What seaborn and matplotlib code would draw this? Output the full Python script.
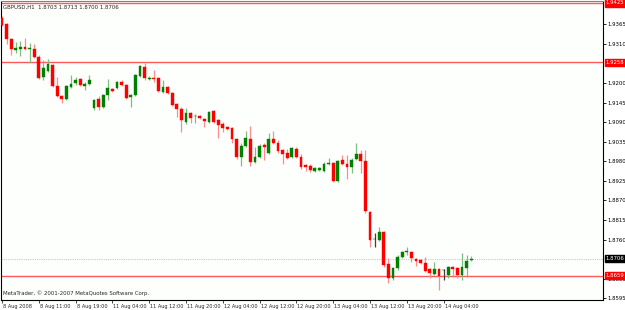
import matplotlib
matplotlib.use("Agg")
import matplotlib.pyplot as plt
import matplotlib.transforms as mtransforms
import seaborn as sns
import pandas as pd

# GBPUSD H1, 8 Aug 2008 03:00 .. 14 Aug 2008 04:00 (103 bars)
opens = [1.9383, 1.9366, 1.9324, 1.9293, 1.9296, 1.9301, 1.9297, 1.9296, 1.9273, 1.9217,
         1.9234, 1.9251, 1.9192, 1.9164, 1.9155, 1.9189, 1.9200, 1.9211, 1.9192, 1.9197,
         1.9130, 1.9155, 1.9133, 1.9166, 1.9183, 1.9186, 1.9203, 1.9194, 1.9161, 1.9166,
         1.9220, 1.9245, 1.9212, 1.9215, 1.9214, 1.9175, 1.9189, 1.9172, 1.9141, 1.9127,
         1.9091, 1.9116, 1.9106, 1.9107, 1.9099, 1.9091, 1.9121, 1.9096, 1.9085, 1.9076,
         1.9074, 1.9043, 1.8992, 1.9023, 1.9043, 1.8978, 1.8992, 1.9026, 1.9003, 1.9043,
         1.9032, 1.9012, 1.9003, 1.8992, 1.9015, 1.8992, 1.8970, 1.8967, 1.8953, 1.8956,
         1.8953, 1.8972, 1.8975, 1.8925, 1.8984, 1.8972, 1.8964, 1.8986, 1.9001, 1.8981,
         1.8838, 1.8762, 1.8759, 1.8782, 1.8691, 1.8652, 1.8680, 1.8711, 1.8725, 1.8725,
         1.8705, 1.8703, 1.8694, 1.8677, 1.8663, 1.8677, 1.8674, 1.8660, 1.8683, 1.8680,
         1.8660, 1.8680, 1.8703]
highs = [1.9388, 1.9369, 1.9326, 1.9315, 1.9318, 1.9326, 1.9312, 1.9310, 1.9279, 1.9265,
         1.9267, 1.9253, 1.9217, 1.9166, 1.9194, 1.9223, 1.9217, 1.9214, 1.9203, 1.9223,
         1.9155, 1.9164, 1.9169, 1.9211, 1.9186, 1.9206, 1.9209, 1.9197, 1.9169, 1.9226,
         1.9251, 1.9256, 1.9220, 1.9237, 1.9217, 1.9209, 1.9192, 1.9175, 1.9144, 1.9133,
         1.9130, 1.9119, 1.9113, 1.9110, 1.9102, 1.9121, 1.9124, 1.9099, 1.9091, 1.9079,
         1.9076, 1.9046, 1.9032, 1.9065, 1.9079, 1.9020, 1.9029, 1.9032, 1.9060, 1.9065,
         1.9040, 1.9015, 1.9015, 1.9020, 1.9020, 1.9001, 1.8972, 1.8972, 1.8964, 1.8964,
         1.8978, 1.8989, 1.8978, 1.8984, 1.8998, 1.8998, 1.8989, 1.9032, 1.9012, 1.9012,
         1.8840, 1.8779, 1.8796, 1.8785, 1.8708, 1.8683, 1.8717, 1.8728, 1.8739, 1.8728,
         1.8708, 1.8705, 1.8711, 1.8680, 1.8697, 1.8680, 1.8677, 1.8686, 1.8686, 1.8683,
         1.8722, 1.8717, 1.8713]
lows = [1.9360, 1.9310, 1.9279, 1.9284, 1.9276, 1.9293, 1.9256, 1.9270, 1.9212, 1.9209,
        1.9231, 1.9189, 1.9161, 1.9144, 1.9152, 1.9186, 1.9194, 1.9192, 1.9180, 1.9194,
        1.9124, 1.9124, 1.9130, 1.9152, 1.9175, 1.9183, 1.9192, 1.9155, 1.9133, 1.9164,
        1.9217, 1.9209, 1.9209, 1.9203, 1.9175, 1.9173, 1.9170, 1.9135, 1.9105, 1.9062,
        1.9085, 1.9088, 1.9088, 1.9099, 1.9076, 1.9088, 1.9088, 1.9046, 1.9062, 1.9068,
        1.9032, 1.8986, 1.8967, 1.9020, 1.8967, 1.8975, 1.8989, 1.8984, 1.9001, 1.9029,
        1.9003, 1.8972, 1.8986, 1.8989, 1.8990, 1.8958, 1.8953, 1.8950, 1.8950, 1.8953,
        1.8950, 1.8970, 1.8922, 1.8922, 1.8970, 1.8930, 1.8947, 1.8984, 1.8947, 1.8835,
        1.8739, 1.8739, 1.8756, 1.8683, 1.8638, 1.8646, 1.8674, 1.8708, 1.8717, 1.8697,
        1.8686, 1.8691, 1.8669, 1.8652, 1.8660, 1.8618, 1.8646, 1.8652, 1.8655, 1.8652,
        1.8646, 1.8655, 1.8700]
closes = [1.9363, 1.9324, 1.9296, 1.9298, 1.9301, 1.9296, 1.9299, 1.9273, 1.9214, 1.9242,
          1.9253, 1.9192, 1.9164, 1.9155, 1.9192, 1.9197, 1.9209, 1.9194, 1.9197, 1.9209,
          1.9152, 1.9133, 1.9166, 1.9186, 1.9178, 1.9203, 1.9194, 1.9158, 1.9166, 1.9223,
          1.9248, 1.9214, 1.9215, 1.9211, 1.9178, 1.9189, 1.9172, 1.9138, 1.9127, 1.9096,
          1.9116, 1.9102, 1.9108, 1.9102, 1.9093, 1.9119, 1.9091, 1.9082, 1.9074, 1.9071,
          1.9043, 1.8992, 1.9023, 1.9046, 1.8978, 1.8992, 1.9023, 1.9020, 1.9043, 1.9032,
          1.9009, 1.9001, 1.8989, 1.9017, 1.8992, 1.8964, 1.8964, 1.8956, 1.8961, 1.8961,
          1.8972, 1.8975, 1.8925, 1.8981, 1.8972, 1.8964, 1.8984, 1.9001, 1.8981, 1.8840,
          1.8759, 1.8762, 1.8782, 1.8689, 1.8652, 1.8680, 1.8711, 1.8725, 1.8728, 1.8708,
          1.8700, 1.8694, 1.8672, 1.8666, 1.8677, 1.8658, 1.8674, 1.8683, 1.8677, 1.8660,
          1.8683, 1.8700, 1.8706]

time_labels = ["8 Aug 2008", "8 Aug 11:00", "8 Aug 19:00", "11 Aug 04:00", "11 Aug 12:00",
               "11 Aug 20:00", "12 Aug 04:00", "12 Aug 12:00", "12 Aug 20:00", "13 Aug 04:00",
               "13 Aug 12:00", "13 Aug 20:00", "14 Aug 04:00"]
time_label_bars = [0, 8, 16, 24, 32, 40, 48, 56, 64, 72, 80, 88, 96]
price_ticks = [1.9365, 1.9310, 1.9200, 1.9145, 1.9090, 1.9035, 1.8980, 1.8925,
               1.8870, 1.8815, 1.8760, 1.8650, 1.8595]
red_levels = [1.9425, 1.9258, 1.8659]
bid = 1.8706

df = pd.DataFrame({"open": opens, "high": highs, "low": lows, "close": closes})
df["bar"] = range(len(df))

sns.set_style("white")
plt.rcParams["font.family"] = ["DejaVu Sans"]
FS = 3.9

fig = plt.figure(figsize=(6.25, 3.10), dpi=100)
fig.patch.set_facecolor("white")
ax = fig.add_axes([1 / 625, 10 / 310, 602 / 625, 299 / 310])
ax.set_facecolor("#fdfffd")

# candles
up = df["close"] > df["open"]
down = df["close"] < df["open"]
flat = df["close"] == df["open"]
for mask, wick_c, body_c in [(up, "#7fbf7f", "#008000"), (down, "#ff8c8c", "#ff0000"),
                             (flat, "#404040", "#000000")]:
    d = df[mask]
    ax.vlines(d["bar"], d["low"], d["high"], color=wick_c, lw=0.9, zorder=2)
    h = (d["close"] - d["open"]).abs().clip(lower=0.00005)
    ax.bar(d["bar"], h, bottom=d[["open", "close"]].min(axis=1), width=0.62,
           color=body_c, edgecolor=body_c, lw=0.3, zorder=3)

# levels
for lv in red_levels:
    ax.axhline(lv, color="#ff5a5a", lw=1.0, zorder=1)
ax.axhline(bid, color="#c8c8c8", lw=0.8, ls=(0, (1, 1)), zorder=1)

ax.set_xlim(-0.22, 130.65)
ax.set_ylim(1.85903, 1.94305)

ax.yaxis.tick_right()
ax.set_yticks(price_ticks)
ax.set_yticklabels([f"{p:.4f}" for p in price_ticks])
ax.set_xticks(time_label_bars)
ax.set_xticklabels(time_labels, ha="left")
ax.tick_params(axis="y", right=True, length=2, width=0.6, pad=1.2, labelsize=FS,
               colors="#000000")
ax.tick_params(axis="x", bottom=True, length=2, width=0.6, pad=0.8, labelsize=3.6)
offset = mtransforms.ScaledTranslation(1 / 100, 0, fig.dpi_scale_trans)
for lbl in ax.get_xticklabels():
    lbl.set_transform(lbl.get_transform() + offset)

for side in ["left", "bottom", "right"]:
    ax.spines[side].set_color("#000000")
    ax.spines[side].set_linewidth(0.8)
ax.spines["top"].set_color("#808080")
ax.spines["top"].set_linewidth(0.8)

# price boxes on the right scale
trans = mtransforms.blended_transform_factory(ax.transAxes, ax.transData)
for lv in red_levels:
    ax.text(1.0045, lv, f"{lv:.4f}", transform=trans, fontsize=FS, color="white",
            va="center", ha="left", clip_on=False, zorder=5,
            bbox=dict(boxstyle="square,pad=0.2", fc="#ff0000", ec="#ff0000"))
ax.text(1.0045, bid, f"{bid:.4f}", transform=trans, fontsize=FS, color="white",
        va="center", ha="left", clip_on=False, zorder=5,
        bbox=dict(boxstyle="square,pad=0.2", fc="#000000", ec="#000000"))

ax.text(0.004, 0.988, "GBPUSD,H1  1.8703 1.8713 1.8700 1.8706", transform=ax.transAxes,
        fontsize=FS, va="top", ha="left")
ax.text(0.004, 0.012, "MetaTrader, © 2001-2007 MetaQuotes Software Corp.",
        transform=ax.transAxes, fontsize=FS, va="bottom", ha="left")

fig.savefig("out.png", dpi=100, facecolor=fig.get_facecolor())
